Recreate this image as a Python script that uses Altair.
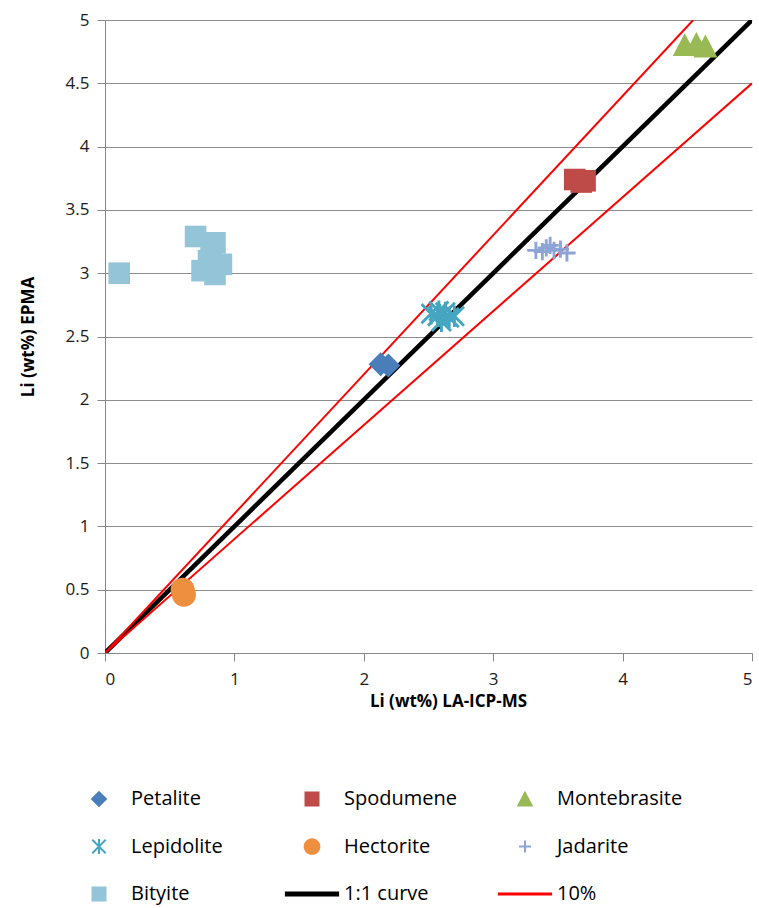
import altair as alt
import pandas as pd

# ---------------- data ----------------
series_names = ["Petalite", "Spodumene", "Montebrasite", "Lepidolite", "Hectorite",
                "Jadarite", "Bityite", "1:1 curve", "10%"]
series_colors = ["#4A7EBB", "#BE4B48", "#98B954", "#46A6C2", "#EE8E3F",
                 "#8DA5D5", "#93C4D7", "#000000", "#FF0000"]

petalite_x = [2.13, 2.19]
petalite_y = [2.28, 2.27]
spodumene_x = [3.63, 3.68, 3.71]
spodumene_y = [3.74, 3.72, 3.73]
montebrasite_x = [4.48, 4.57, 4.64]
montebrasite_y = [4.80, 4.81, 4.79]
lepidolite_x = [2.52, 2.57, 2.60, 2.63, 2.66, 2.70, 2.58]
lepidolite_y = [2.68, 2.66, 2.62, 2.69, 2.65, 2.66, 2.70]
hectorite_x = [0.60, 0.61]
hectorite_y = [0.50, 0.46]
jadarite_x = [3.33, 3.38, 3.41, 3.44, 3.47, 3.52, 3.57]
jadarite_y = [3.18, 3.17, 3.20, 3.22, 3.18, 3.19, 3.16]
bityite_x = [0.11, 0.70, 0.85, 0.82, 0.90, 0.75, 0.85, 0.80]
bityite_y = [3.00, 3.29, 3.24, 3.16, 3.07, 3.02, 2.99, 3.10]

# reference curves: 1:1 and +/-10 %
curve_11_x = [0, 5]
curve_11_y = [0, 5]
curve_up_x = [0, 5 / 1.1]
curve_up_y = [0, 5]
curve_lo_x = [0, 5]
curve_lo_y = [0, 4.5]

x_ticks = [0, 1, 2, 3, 4, 5]
y_ticks = [0, 0.5, 1, 1.5, 2, 2.5, 3, 3.5, 4, 4.5, 5]

# ---------------- marker shapes (filled paths in [-1,1] box) ----------------
sq = "M-0.9,-0.9H0.9V0.9H-0.9Z"
dia = "M0,-1L1,0L0,1L-1,0Z"
tri = "M0,-1L1,0.9H-1Z"
ast = ("M-0.12,-0.9H0.12V0.9H-0.12Z"
       "M-0.715,-0.885L0.885,0.715L0.715,0.885L-0.885,-0.715Z"
       "M-0.715,0.885L-0.885,0.715L0.715,-0.885L0.885,-0.715Z")
circ = "M-1,0A1,1,0,1,1,1,0A1,1,0,1,1,-1,0Z"
plus = "M-0.72,-0.12H0.72V0.12H-0.72ZM-0.12,-0.72H0.12V0.72H-0.12Z"
line_thick = "M-3.25,-0.3H3.25V0.3H-3.25Z"
line_thin = "M-3.25,-0.17H3.25V0.17H-3.25Z"
shapes = [dia, sq, tri, ast, circ, plus, sq, line_thick, line_thin]

rows = []
for name, xs, ys in [("Petalite", petalite_x, petalite_y),
                     ("Spodumene", spodumene_x, spodumene_y),
                     ("Montebrasite", montebrasite_x, montebrasite_y),
                     ("Lepidolite", lepidolite_x, lepidolite_y),
                     ("Hectorite", hectorite_x, hectorite_y),
                     ("Jadarite", jadarite_x, jadarite_y),
                     ("Bityite", bityite_x, bityite_y)]:
    for xv, yv in zip(xs, ys):
        rows.append({"mineral": name, "x": xv, "y": yv})
pts = pd.DataFrame(rows)

lrows = []
for grp, kind, xs, ys in [("one", "1:1 curve", curve_11_x, curve_11_y),
                          ("up", "10%", curve_up_x, curve_up_y),
                          ("lo", "10%", curve_lo_x, curve_lo_y)]:
    for xv, yv in zip(xs, ys):
        lrows.append({"group": grp, "kind": kind, "x": xv, "y": yv})
lines_df = pd.DataFrame(lrows)

FONT = "Open Sans"

x_enc = alt.X("x:Q", scale=alt.Scale(domain=[0, 5], nice=False, zero=True),
              axis=alt.Axis(values=x_ticks, grid=False, title="Li (wt%) LA-ICP-MS",
                            format="~g", tickSize=8, labelPadding=10, titlePadding=6,
                            titleX=343, titleAlign="center"))
y_enc = alt.Y("y:Q", scale=alt.Scale(domain=[0, 5], nice=False, zero=True),
              axis=alt.Axis(values=y_ticks, grid=True, title="Li (wt%) EPMA",
                            format="~g", tickSize=8, labelPadding=8, titlePadding=28))

lines = alt.Chart(lines_df).mark_line(clip=True).encode(
    x=x_enc,
    y=y_enc,
    detail="group:N",
    stroke=alt.Stroke("kind:N", scale=alt.Scale(domain=["1:1 curve", "10%"],
                                                range=["#000000", "#FF0000"]), legend=None),
    strokeWidth=alt.StrokeWidth("kind:N", scale=alt.Scale(domain=["1:1 curve", "10%"],
                                                          range=[4.5, 2]), legend=None),
)

legend = alt.Legend(orient="none", legendX=-16, legendY=769, columns=3, direction="horizontal",
                    title=None, symbolSize=278, symbolStrokeWidth=0, labelFont=FONT,
                    labelFontSize=20, labelColor="#000000", labelOffset=22, columnPadding=27,
                    rowPadding=27.5, gridAlign="all", padding=0, labelLimit=300)

points = alt.Chart(pts).mark_point(filled=True, opacity=1, size=576).encode(
    x=x_enc,
    y=y_enc,
    color=alt.Color("mineral:N", scale=alt.Scale(domain=series_names, range=series_colors),
                    legend=legend),
    shape=alt.Shape("mineral:N", scale=alt.Scale(domain=series_names, range=shapes),
                    legend=legend),
)

chart = alt.layer(lines, points).properties(
    width=647, height=633,
    autosize=alt.AutoSizeParams(type="none"),
    padding={"left": 105, "top": 20, "right": 7, "bottom": 255},
    background="white",
).configure_view(stroke=None).configure_axis(
    labelFont=FONT, labelFontSize=17, labelColor="#1a1a1a",
    titleFont=FONT, titleFontSize=17, titleFontWeight="bold", titleColor="#000000",
    domainColor="#868686", tickColor="#868686", gridColor="#8C8C8C",
    domainWidth=1, tickWidth=1, gridWidth=1,
)

chart.save("out.html", embed_options={"renderer": "svg", "actions": False})
